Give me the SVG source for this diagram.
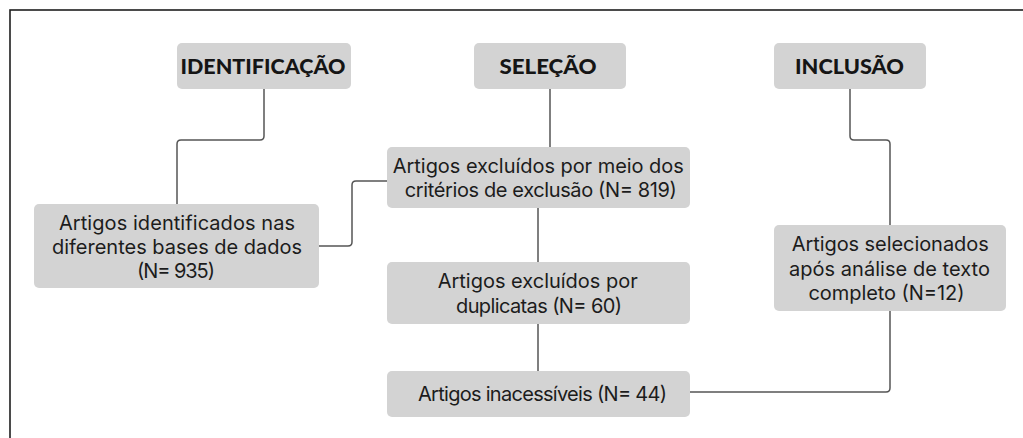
<svg xmlns="http://www.w3.org/2000/svg" width="1023" height="438" viewBox="0 0 1023 438">
<style>
.box{fill:#d3d3d3;}
.t{font-family:Inter,"Open Sans","Liberation Sans",sans-serif;font-size:20px;fill:#1c1c1c;text-anchor:middle;}
.h{font-family:Lato,"Open Sans","Liberation Sans",sans-serif;font-weight:900;font-size:21.5px;fill:#151515;text-anchor:middle;}
.c{fill:none;stroke:#555;stroke-width:1.5;}
</style>
<rect width="1023" height="438" fill="#fff"/>
<rect x="10" y="10" width="1100" height="500" fill="none" stroke="#1e1e1e" stroke-width="1.6"/>
<g id="connectors">
<path class="c" d="M264,89 V136 Q264,140 260,140 H181 Q177,140 177,144 V204"/>
<path class="c" d="M319,246 H348 Q352,246 352,242 V185 Q352,181 356,181 H387"/>
<path class="c" d="M550,89 V147"/>
<path class="c" d="M538,208 V262"/>
<path class="c" d="M538,324 V371"/>
<path class="c" d="M690,392 H886 Q890,392 890,388 V311"/>
<path class="c" d="M850,89 V136 Q850,140 854,140 H886 Q890,140 890,144 V225"/>
</g>
<g id="identificacao">
<rect class="box" x="177" y="43" width="174" height="46" rx="5"/>
<text class="h" x="263" y="73.5" textLength="165" lengthAdjust="spacingAndGlyphs">IDENTIFICAÇÃO</text>
</g>
<g id="selecao">
<rect class="box" x="474" y="43" width="152" height="46" rx="5"/>
<text class="h" x="548" y="73.5" textLength="97" lengthAdjust="spacingAndGlyphs">SELEÇÃO</text>
</g>
<g id="inclusao">
<rect class="box" x="774" y="43" width="152" height="46" rx="5"/>
<text class="h" x="849.5" y="73.5" textLength="109" lengthAdjust="spacingAndGlyphs">INCLUSÃO</text>
</g>
<g id="identificados">
<rect class="box" x="34" y="204" width="285" height="84" rx="5"/>
<text class="t" x="177" y="229.5" textLength="236">Artigos identificados nas</text>
<text class="t" x="177" y="253.5" textLength="250">diferentes bases de dados</text>
<text class="t" x="176" y="277.5" textLength="78">(N= 935)</text>
</g>
<g id="excluidos-criterios">
<rect class="box" x="387" y="147" width="303" height="61" rx="5"/>
<text class="t" x="538.3" y="172.5" textLength="291">Artigos excluídos por meio dos</text>
<text class="t" x="540.8" y="197" textLength="272">critérios de exclusão (N= 819)</text>
</g>
<g id="excluidos-duplicatas">
<rect class="box" x="387" y="262" width="303" height="62" rx="5"/>
<text class="t" x="537.7" y="288" textLength="200">Artigos excluídos por</text>
<text class="t" x="539" y="313" textLength="166">duplicatas (N= 60)</text>
</g>
<g id="inacessiveis">
<rect class="box" x="387" y="371" width="303" height="46" rx="5"/>
<text class="t" x="542.5" y="401" textLength="249">Artigos inacessíveis (N= 44)</text>
</g>
<g id="selecionados">
<rect class="box" x="774" y="225" width="232" height="86" rx="5"/>
<text class="t" x="890.2" y="251.3" textLength="197">Artigos selecionados</text>
<text class="t" x="889.5" y="275.7" textLength="201">após análise de texto</text>
<text class="t" x="886.5" y="299.7" textLength="156">completo (N=12)</text>
</g>
</svg>
